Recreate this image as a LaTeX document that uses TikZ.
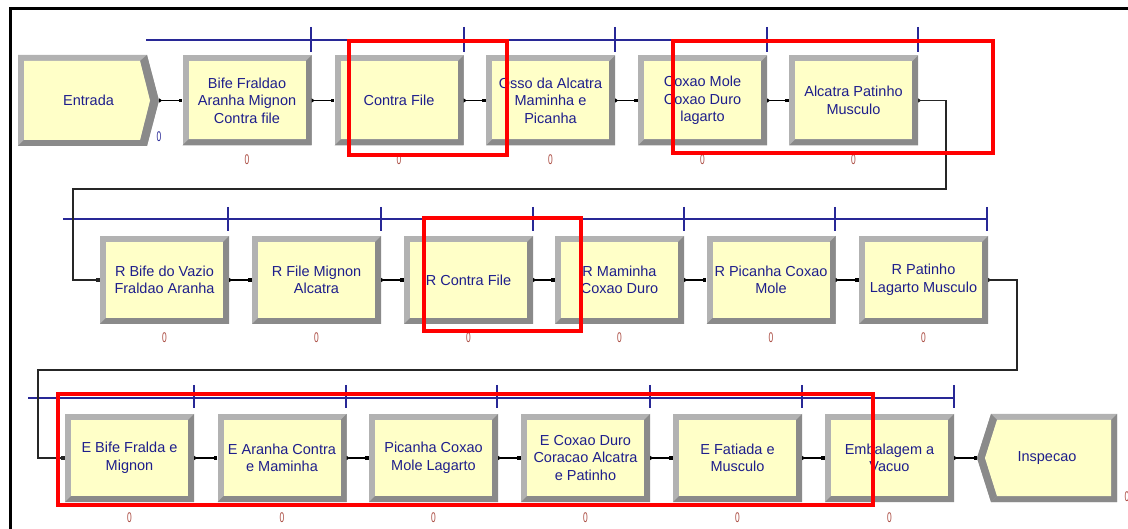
\documentclass[tikz,border=0pt]{standalone}
\usepackage{fontspec}
\setmainfont{Liberation Sans}
\usetikzlibrary{arrows.meta}
\definecolor{boxyellow}{RGB}{255,255,200}
\definecolor{bevlight}{RGB}{178,178,178}
\definecolor{bevdark}{RGB}{138,138,138}
\definecolor{txtblue}{RGB}{30,30,140}
\definecolor{linkblue}{RGB}{40,40,150}
\definecolor{zerored}{RGB}{170,75,65}
\tikzset{
  arenabox/.style={rectangle, minimum width=129pt, minimum height=88pt, inner sep=0pt,
    fill=bevlight, text=txtblue, align=center, font=\fontsize{14.5}{17.5}\selectfont,
    path picture={
      \fill[bevdark] (path picture bounding box.south west) -- (path picture bounding box.south east)
        -- (path picture bounding box.north east) -- ([shift={(-6pt,-6pt)}]path picture bounding box.north east)
        -- ([shift={(-6pt,6pt)}]path picture bounding box.south east) -- ([shift={(6pt,6pt)}]path picture bounding box.south west) -- cycle;
      \fill[boxyellow] ([shift={(6pt,-6pt)}]path picture bounding box.north west) rectangle ([shift={(-6pt,6pt)}]path picture bounding box.south east);
    }},
  termtext/.style={rectangle, inner sep=0pt, text=txtblue, font=\fontsize{14.5}{17.5}\selectfont},
  zero/.style={text=zerored, font=\fontsize{14}{14}\selectfont, inner sep=0pt},
  conn/.style={draw=black, line width=1.1pt, arrows={Triangle[reversed,length=3pt,width=4pt]-Square[length=3.5pt,width=3.5pt]}},
  feed/.style={draw=black!85, line width=1.1pt, arrows={Triangle[reversed,length=3pt,width=4pt]-Square[length=3.5pt,width=3.5pt]}},
  bline/.style={draw=linkblue, line width=1.1pt},
  redbox/.style={draw=red, line width=4pt},
  frame/.style={draw=black, line width=3pt}
}
\newcommand{\zz}{\scalebox{0.6}[1]{0}}
\begin{document}
\begin{tikzpicture}[x=1pt,y=-1pt]
\useasboundingbox (0,0) rectangle (1128,529);
\draw[frame] (10,529) -- (10,9) -- (1128,9);

% blue bars
\draw[bline] (146,40) -- (918,40);
\foreach \x in {311,464,615,767,918} \draw[bline] (\x,27) -- (\x,52);
\draw[bline] (63,219) -- (987,219);
\foreach \x in {228,381,533,684,835,987} \draw[bline] (\x,207) -- (\x,231);
\draw[bline] (28,398) -- (954,398);
\foreach \x in {194,346,497,650,802,954} \draw[bline] (\x,385) -- (\x,408);

% Entrada (create module)
\fill[bevlight] (18,55) -- (147,55) -- (159,100.5) -- (147,146) -- (18,146) -- cycle;
\fill[bevdark] (18,146) -- (147,146) -- (159,100.5) -- (147,55) -- (140,61) -- (150,100.5) -- (140,140) -- (24,140) -- cycle;
\fill[boxyellow] (24,61) -- (140,61) -- (150,100.5) -- (140,140) -- (24,140) -- cycle;
\node[termtext, minimum width=141pt, minimum height=91pt] (entrada) at (88.5,100.5) {Entrada};

% row 1
\node[arenabox, minimum height=90pt] (b1) at (247,100.5) {Bife Fraldao\\Aranha Mignon\\Contra file};
\node[arenabox, minimum height=90pt] (b2) at (399,100.5) {Contra File};
\node[arenabox, minimum height=90pt] (b3) at (550.5,100.5) {Osso da Alcatra\\Maminha e\\Picanha};
\node[arenabox, minimum height=90pt] (b4) at (702.5,100.5) {Coxao Mole\\Coxao Duro\\lagarto};
\node[arenabox, minimum height=90pt] (b5) at (853.5,100.5) {Alcatra Patinho\\Musculo};

% row 2
\node[arenabox] (r1) at (164.5,280) {R Bife do Vazio\\Fraldao Aranha};
\node[arenabox] (r2) at (316.5,280) {R File Mignon\\Alcatra};
\node[arenabox] (r3) at (468.5,280) {R Contra File};
\node[arenabox] (r4) at (619.5,280) {R Maminha\\Coxao Duro};
\node[arenabox] (r5) at (771,280) {R Picanha Coxao\\Mole};
\node[arenabox] (r6) at (923.5,280) {R Patinho\\Lagarto Musculo};

% row 3
\node[arenabox] (e1) at (129.5,458) {E Bife Fralda e\\Mignon};
\node[arenabox] (e2) at (282,458) {E Aranha Contra\\e Maminha};
\node[arenabox] (e3) at (433.5,458) {Picanha Coxao\\Mole Lagarto};
\node[arenabox] (e4) at (585.5,458) {E Coxao Duro\\Coracao Alcatra\\e Patinho};
\node[arenabox] (e5) at (737.5,458) {E Fatiada e\\Musculo};
\node[arenabox] (e6) at (889.5,458) {Embalagem a\\Vacuo};

% Inspecao (dispose module)
\fill[bevlight] (991,414) -- (1117,414) -- (1117,502) -- (991,502) -- (977,458) -- cycle;
\fill[bevdark] (991,502) -- (1117,502) -- (1117,414) -- (1111,420) -- (1111,496) -- (997,496) -- cycle;
\fill[bevdark] (991,414) -- (977,458) -- (991,502) -- (997,496) -- (985,458) -- (997,420) -- cycle;
\fill[boxyellow] (997,420) -- (1111,420) -- (1111,496) -- (997,496) -- (985,458) -- cycle;
\node[termtext, minimum width=140pt, minimum height=88pt] (insp) at (1047,458) {Inspecao};

% zeros
\node[zero, text=linkblue] (z0) at (159,137) {\zz};
\foreach \n/\x in {b1/247,b2/399,b3/550.5,b4/702.5,b5/853.5} \node[zero] (z\n) at (\x,160) {\zz};
\foreach \n/\x in {r1/164.5,r2/316.5,r3/468.5,r4/619.5,r5/771,r6/923.5} \node[zero] (z\n) at (\x,338) {\zz};
\foreach \n/\x in {e1/129.5,e2/282,e3/433.5,e4/585.5,e5/737.5,e6/889.5} \node[zero] (z\n) at (\x,518) {\zz};
\node[zero] (zinsp) at (1127,497) {\zz};

% connectors
\draw[conn] (entrada.east) -- (b1.west);
\draw[conn] (b1.east) -- (b2.west);
\draw[conn] (b2.east) -- (b3.west);
\draw[conn] (b3.east) -- (b4.west);
\draw[conn] (b4.east) -- (b5.west);
\coordinate (k2) at (946,189);
\coordinate (k3) at (73,189);
\draw[feed] (b5.east) -| (k2) -- (k3) |- (r1.west);
\draw[conn] (r1.east) -- (r2.west);
\draw[conn] (r2.east) -- (r3.west);
\draw[conn] (r3.east) -- (r4.west);
\draw[conn] (r4.east) -- (r5.west);
\draw[conn] (r5.east) -- (r6.west);
\coordinate (m2) at (1017,370);
\coordinate (m3) at (38,370);
\draw[feed] (r6.east) -| (m2) -- (m3) |- (e1.west);
\draw[conn] (e1.east) -- (e2.west);
\draw[conn] (e2.east) -- (e3.west);
\draw[conn] (e3.east) -- (e4.west);
\draw[conn] (e4.east) -- (e5.west);
\draw[conn] (e5.east) -- (e6.west);
\coordinate (inspTip) at (977,458);
\draw[conn] (e6.east) -- (inspTip);

% red highlight rectangles
\draw[redbox] (349,41) rectangle (507,155);
\draw[redbox] (673,41) rectangle (993,153);
\draw[redbox] (424,218) rectangle (581,331);
\draw[redbox] (58,394) rectangle (873,505);
\end{tikzpicture}
\end{document}
